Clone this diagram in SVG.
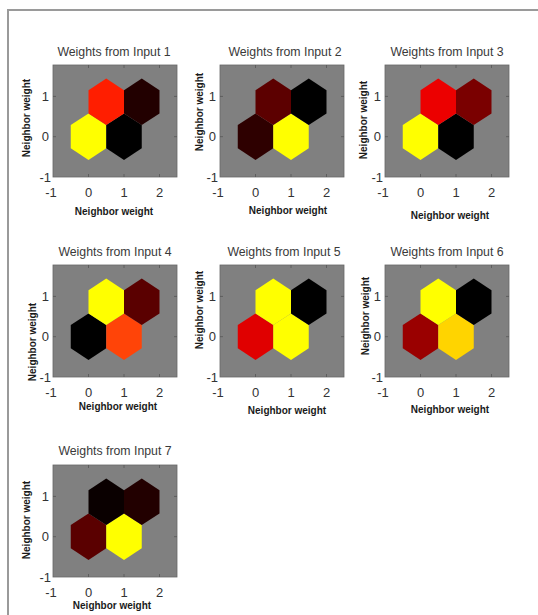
<svg xmlns="http://www.w3.org/2000/svg" xmlns:xlink="http://www.w3.org/1999/xlink" width="538" height="615" viewBox="0 0 538 615">
<style>
.bg{fill:#808080;stroke:#666;stroke-width:0.8}
.tk{stroke:#555;stroke-width:0.8}
.tt{font-family:"Liberation Sans",Arial,sans-serif;font-size:12.3px;fill:#3a3a3a;text-anchor:middle}
.tl{font-family:"Liberation Sans",Arial,sans-serif;font-size:13px;fill:#333}
.tx{text-anchor:middle}
.ty{text-anchor:end}
.al{font-family:"Liberation Sans",Arial,sans-serif;font-size:10px;font-weight:bold;fill:#1a1a1a;text-anchor:middle}
</style>
<defs>
<polygon id="hex" points="0,-23.25 17.75,-11.63 17.75,11.63 0,23.25 -17.75,11.63 -17.75,-11.63"/>
<g id="axes">
<rect class="bg" x="0" y="-112" width="124" height="112"/>
<path class="tk" d="M35.5,-112v3M71,-112v3M106.5,-112v3M35.5,0v-3M71,0v-3M106.5,0v-3M124,-80.6h-3M124,-40.3h-3M0,-80.6h3M0,-40.3h3"/>
<text class="tl ty" x="-4" y="-76">1</text>
<text class="tl ty" x="-4" y="-35.8">0</text>
<text class="tl ty" x="-2" y="4.5">-1</text>
<text class="tl tx" x="-2" y="20">-1</text>
<text class="tl tx" x="35.5" y="20">0</text>
<text class="tl tx" x="71" y="20">1</text>
<text class="tl tx" x="106.5" y="20">2</text>
</g>
</defs>
<g id="frame"><path d="M8,615V10H538" fill="none" stroke="#9a9a9a" stroke-width="2"/></g>
<g id="connectors"/>

<g id="panel1" transform="translate(53,177)">
<use xlink:href="#axes"/>
<use xlink:href="#hex" x="35.5" y="-40.3" fill="#ffff00"/>
<use xlink:href="#hex" x="71" y="-40.3" fill="#000000"/>
<use xlink:href="#hex" x="53.25" y="-75.2" fill="#ff1e00"/>
<use xlink:href="#hex" x="88.75" y="-75.2" fill="#220000"/>
<text class="tt" x="61" y="-121">Weights from Input 1</text>
<text class="al" x="61" y="38">Neighbor weight</text>
<text class="al" transform="translate(-23,-59) rotate(-90)">Neighbor weight</text>
</g>

<g id="panel2" transform="translate(220,177)">
<use xlink:href="#axes"/>
<use xlink:href="#hex" x="35.5" y="-40.3" fill="#2e0000"/>
<use xlink:href="#hex" x="71" y="-40.3" fill="#ffff00"/>
<use xlink:href="#hex" x="53.25" y="-75.2" fill="#5c0000"/>
<use xlink:href="#hex" x="88.75" y="-75.2" fill="#000000"/>
<text class="tt" x="65" y="-121">Weights from Input 2</text>
<text class="al" x="68" y="37">Neighbor weight</text>
<text class="al" transform="translate(-17,-65) rotate(-90)">Neighbor weight</text>
</g>

<g id="panel3" transform="translate(385,177)">
<use xlink:href="#axes"/>
<use xlink:href="#hex" x="35.5" y="-40.3" fill="#ffff00"/>
<use xlink:href="#hex" x="71" y="-40.3" fill="#000000"/>
<use xlink:href="#hex" x="53.25" y="-75.2" fill="#ec0000"/>
<use xlink:href="#hex" x="88.75" y="-75.2" fill="#7a0000"/>
<text class="tt" x="62" y="-121">Weights from Input 3</text>
<text class="al" x="65" y="42">Neighbor weight</text>
<text class="al" transform="translate(-18,-57) rotate(-90)">Neighbor weight</text>
</g>

<g id="panel4" transform="translate(53,377)">
<use xlink:href="#axes"/>
<use xlink:href="#hex" x="35.5" y="-40.3" fill="#000000"/>
<use xlink:href="#hex" x="71" y="-40.3" fill="#ff4408"/>
<use xlink:href="#hex" x="53.25" y="-75.2" fill="#ffff00"/>
<use xlink:href="#hex" x="88.75" y="-75.2" fill="#5a0000"/>
<text class="tt" x="62" y="-121">Weights from Input 4</text>
<text class="al" x="65" y="33">Neighbor weight</text>
<text class="al" transform="translate(-17,-35) rotate(-90)">Neighbor weight</text>
</g>

<g id="panel5" transform="translate(220,377)">
<use xlink:href="#axes"/>
<use xlink:href="#hex" x="35.5" y="-40.3" fill="#e00000"/>
<use xlink:href="#hex" x="71" y="-40.3" fill="#ffff00"/>
<use xlink:href="#hex" x="53.25" y="-75.2" fill="#ffff00"/>
<use xlink:href="#hex" x="88.75" y="-75.2" fill="#000000"/>
<text class="tt" x="64" y="-121">Weights from Input 5</text>
<text class="al" x="67" y="37">Neighbor weight</text>
<text class="al" transform="translate(-17,-67) rotate(-90)">Neighbor weight</text>
</g>

<g id="panel6" transform="translate(385,377)">
<use xlink:href="#axes"/>
<use xlink:href="#hex" x="35.5" y="-40.3" fill="#9a0000"/>
<use xlink:href="#hex" x="71" y="-40.3" fill="#ffd400"/>
<use xlink:href="#hex" x="53.25" y="-75.2" fill="#ffff00"/>
<use xlink:href="#hex" x="88.75" y="-75.2" fill="#000000"/>
<text class="tt" x="62" y="-121">Weights from Input 6</text>
<text class="al" x="65" y="36">Neighbor weight</text>
<text class="al" transform="translate(-16,-61) rotate(-90)">Neighbor weight</text>
</g>

<g id="panel7" transform="translate(53,577)">
<use xlink:href="#axes"/>
<use xlink:href="#hex" x="35.5" y="-40.3" fill="#5a0000"/>
<use xlink:href="#hex" x="71" y="-40.3" fill="#ffff00"/>
<use xlink:href="#hex" x="53.25" y="-75.2" fill="#0a0000"/>
<use xlink:href="#hex" x="88.75" y="-75.2" fill="#220000"/>
<text class="tt" x="62" y="-122">Weights from Input 7</text>
<text class="al" x="59" y="32">Neighbor weight</text>
<text class="al" transform="translate(-23,-57) rotate(-90)">Neighbor weight</text>
</g>
</svg>
